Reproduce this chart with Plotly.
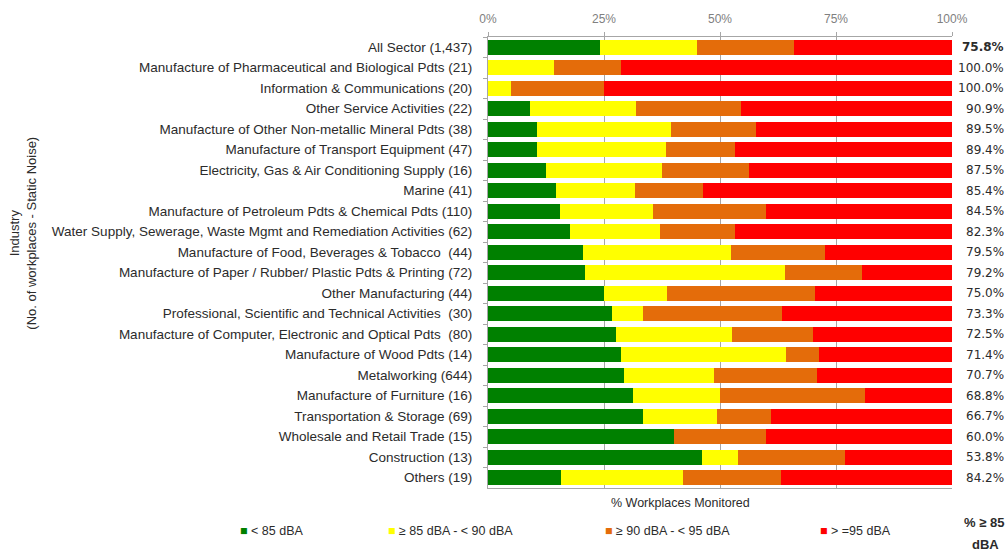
import plotly.graph_objects as go

# Industries (number of workplaces monitored for static noise)
industries = [
    "All Sector (1,437)",
    "Manufacture of Pharmaceutical and Biological Pdts (21)",
    "Information & Communications (20)",
    "Other Service Activities (22)",
    "Manufacture of Other Non-metallic Mineral Pdts (38)",
    "Manufacture of Transport Equipment (47)",
    "Electricity, Gas & Air Conditioning Supply (16)",
    "Marine (41)",
    "Manufacture of Petroleum Pdts & Chemical Pdts (110)",
    "Water Supply, Sewerage, Waste Mgmt and Remediation Activities (62)",
    "Manufacture of Food, Beverages & Tobacco  (44)",
    "Manufacture of Paper / Rubber/ Plastic Pdts & Printing (72)",
    "Other Manufacturing (44)",
    "Professional, Scientific and Technical Activities  (30)",
    "Manufacture of Computer, Electronic and Optical Pdts  (80)",
    "Manufacture of Wood Pdts (14)",
    "Metalworking (644)",
    "Manufacture of Furniture (16)",
    "Transportation & Storage (69)",
    "Wholesale and Retail Trade (15)",
    "Construction (13)",
    "Others (19)",
]

# % of workplaces in each noise band
below_85 = [24.2, 0.0, 0.0, 9.1, 10.5, 10.6, 12.5, 14.6, 15.5, 17.7, 20.5,
            20.8, 25.0, 26.7, 27.5, 28.6, 29.3, 31.2, 33.3, 40.0, 46.2, 15.8]
from_85_to_90 = [20.9, 14.3, 5.0, 22.7, 28.9, 27.7, 25.0, 17.1, 20.0, 19.4, 31.8,
                 43.1, 13.6, 6.6, 25.0, 35.7, 19.3, 18.8, 16.0, 0.0, 7.6, 26.3]
from_90_to_95 = [20.8, 14.3, 20.0, 22.7, 18.4, 14.9, 18.8, 14.6, 24.5, 16.1, 20.4,
                 16.7, 31.9, 30.0, 17.5, 7.1, 22.2, 31.2, 11.6, 20.0, 23.1, 21.1]
at_least_95 = [34.1, 71.4, 75.0, 45.5, 42.2, 46.8, 43.7, 53.7, 40.0, 46.8, 27.3,
               19.4, 29.5, 36.7, 30.0, 28.6, 29.2, 18.8, 39.1, 40.0, 23.1, 36.8]

band_names = ["< 85 dBA", "\u2265 85 dBA - < 90 dBA", "\u2265 90 dBA - < 95 dBA", "> =95 dBA"]
band_colors = ["#008000", "#FFFF00", "#E46C0A", "#FF0000"]
band_values = [below_85, from_85_to_90, from_90_to_95, at_least_95]

x_ticks = [0, 25, 50, 75, 100]
x_tick_labels = ["0%", "25%", "50%", "75%", "100%"]

# Plot area geometry (pixels)
W, H = 1008, 553
L, R, T, B = 488, 56, 34, 65
PW, PH = W - L - R, H - T - B


def px_x(px):
    return (px - L) / PW


def px_y(py):
    return (H - B - py) / PH


LABEL_FONT = "Liberation Sans"
TEXT_COLOR = "#2b2b2b"

fig = go.Figure()
for name, color, vals in zip(band_names, band_colors, band_values):
    fig.add_trace(go.Bar(
        y=industries, x=vals, name=name, orientation="h",
        marker=dict(color=color, line=dict(width=0)),
        showlegend=False, hoverinfo="x+y+name",
    ))

annotations = []

# % >= 85 dBA per industry, right of the bars
for i, cat in enumerate(industries):
    share = round(from_85_to_90[i] + from_90_to_95[i] + at_least_95[i], 1)
    txt = f"{share:.1f}%"
    if i == 0:
        txt = f"<b>{txt}</b>"
    annotations.append(dict(
        x=1, xref="paper", xanchor="right", xshift=1006 - (L + PW),
        y=cat, yref="y", yanchor="middle", text=txt, showarrow=False,
        font=dict(family="DejaVu Sans", size=12, color=TEXT_COLOR),
    ))

# legend row
legend_px = [238, 386, 603, 818]
for name, color, xp in zip(band_names, band_colors, legend_px):
    annotations.append(dict(
        x=px_x(xp), xref="paper", xanchor="left",
        y=px_y(531), yref="paper", yanchor="middle",
        text=f"<span style='color:{color}'>\u25A0</span> {name}",
        showarrow=False,
        font=dict(family=LABEL_FONT, size=12.5, color=TEXT_COLOR),
    ))

# axis titles
annotations.append(dict(
    x=px_x(680), xref="paper", xanchor="center",
    y=px_y(503), yref="paper", yanchor="middle",
    text="% Workplaces Monitored", showarrow=False,
    font=dict(family=LABEL_FONT, size=12.5, color=TEXT_COLOR),
))
annotations.append(dict(
    x=px_x(23), xref="paper", xanchor="center",
    y=px_y(232), yref="paper", yanchor="middle",
    text="Industry<br>(No. of workplaces - Static Noise)", textangle=-90,
    showarrow=False,
    font=dict(family=LABEL_FONT, size=13, color=TEXT_COLOR),
))
annotations.append(dict(
    x=px_x(984), xref="paper", xanchor="center",
    y=px_y(523), yref="paper", yanchor="middle",
    text="<b>% \u2265 85</b>", showarrow=False,
    font=dict(family=LABEL_FONT, size=13, color=TEXT_COLOR),
))
annotations.append(dict(
    x=px_x(985), xref="paper", xanchor="center",
    y=px_y(545), yref="paper", yanchor="middle",
    text="<b>dBA</b>", showarrow=False,
    font=dict(family=LABEL_FONT, size=13, color=TEXT_COLOR),
))

fig.update_layout(
    width=W, height=H,
    margin=dict(l=L, r=R, t=T, b=B, pad=0),
    barmode="stack", bargap=0.27,
    plot_bgcolor="white", paper_bgcolor="white",
    annotations=annotations,
    xaxis=dict(
        side="top", range=[0, 100], tickvals=x_ticks, ticktext=x_tick_labels,
        showgrid=True, gridcolor="#A6A6A6", gridwidth=1,
        showline=True, linecolor="#A6A6A6", linewidth=1, mirror=True,
        ticks="outside", ticklen=4, tickcolor="#A6A6A6",
        ticklabelstandoff=4,
        tickfont=dict(family=LABEL_FONT, size=12, color="#808080"),
        zeroline=False, fixedrange=True,
    ),
    yaxis=dict(
        autorange="reversed", type="category",
        showline=True, linecolor="#A6A6A6", linewidth=1,
        ticks="outside", ticklen=4, tickcolor="#A6A6A6", tickson="boundaries",
        ticklabelstandoff=12,
        tickfont=dict(family=LABEL_FONT, size=13.5, color=TEXT_COLOR),
        showgrid=False, fixedrange=True,
    ),
)

fig.write_html("out.html")
